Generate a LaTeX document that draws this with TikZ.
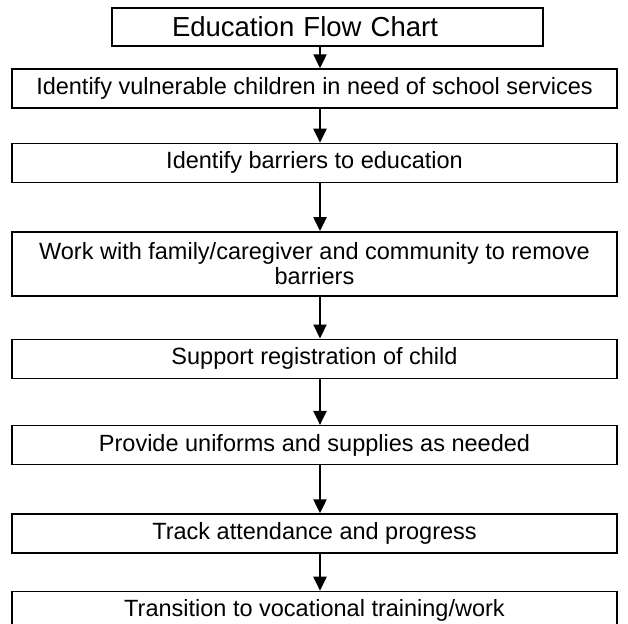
\documentclass[tikz,border=0pt]{standalone}
\usepackage{fontspec}
\setmainfont{Liberation Sans}
\usetikzlibrary{arrows.meta,positioning}

\begin{document}
\begin{tikzpicture}[x=1pt,y=1pt,
  stage/.style={draw,line width=1.4pt,minimum width=605pt,minimum height=39pt,
    inner sep=0pt,align=center,font=\fontsize{23.5}{25.5}\selectfont},
  flow/.style={line width=2.2pt,-{Triangle[length=14pt,width=13pt]}}]
  \useasboundingbox (0,0) rectangle (628,-623);

  % Heading, text pushed to the left of the box
  \node[draw,line width=1.4pt,minimum width=431pt,minimum height=38pt,
    text width=311pt,inner xsep=60pt,inner ysep=0pt,align=left,
    font=\fontsize{27.5}{33}\selectfont] (title) at (327.5,-27) {Education Flow Chart};

  % Steps
  \node[stage] (b1) at (314.5,-88.5) {Identify vulnerable children in need of school services};
  \node[stage,below=34pt of b1] (b2) {Identify barriers to education};
  \node[stage,below=48pt of b2,minimum height=64pt] (b3) {Work with family/caregiver and community to remove\\barriers};
  \node[stage,below=42pt of b3] (b4) {Support registration of child};
  \node[stage,below=46pt of b4] (b5) {Provide uniforms and supplies as needed};
  \node[stage,below=48pt of b5] (b6) {Track attendance and progress};
  \node[stage,below=37pt of b6] (b7) {Transition to vocational training/work};

  % Arrows, a little right of the box centres
  \draw[flow] ([xshift=5.5pt]b1.north |- title.south) -- ([xshift=5.5pt]b1.north);
  \foreach \a/\b in {b1/b2,b2/b3,b3/b4,b4/b5,b5/b6,b6/b7}
    \draw[flow] ([xshift=5.5pt]\a.south) -- ([xshift=5.5pt]\b.north);
\end{tikzpicture}
\end{document}
